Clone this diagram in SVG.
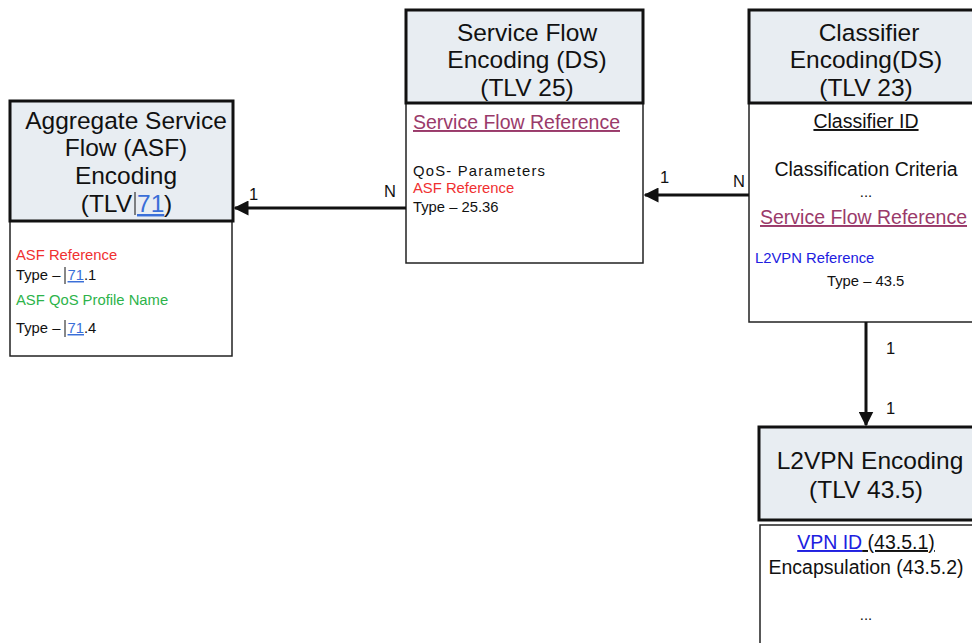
<svg xmlns="http://www.w3.org/2000/svg" width="972" height="643" viewBox="0 0 972 643">
<style>
text{font-family:"Liberation Sans",Arial,sans-serif;fill:#111}
.hdr{fill:#e8edf2;stroke:#111;stroke-width:3}
.body{fill:#fff;stroke:#222;stroke-width:1.5}
.h{font-size:24.5px;text-anchor:middle}
.s{font-size:14.8px}
.m{font-size:19.5px}
.red{fill:#f03030}
.grn{fill:#2db34a}
.blu{fill:#2020e0}
.lnk{fill:#3a6fd8}
.pur{fill:#9a3a6a}
.lbl{font-size:16.5px}
.conn{stroke:#111;stroke-width:3;fill:none}
.cur{stroke:#111;stroke-width:1}
</style>
<defs>
<marker id="ah" viewBox="0 0 10 10" refX="9" refY="5" markerWidth="5" markerHeight="5" orient="auto" markerUnits="strokeWidth">
<path d="M0,0 L10,5 L0,10 z" fill="#111"/>
</marker>
</defs>
<g id="asf">
<rect class="body" x="10" y="221" width="222" height="135"/>
<rect class="hdr" x="10" y="101" width="223" height="120"/>
<text class="h" x="126" y="129">Aggregate Service</text>
<text class="h" x="126" y="156">Flow (ASF)</text>
<text class="h" x="126" y="184">Encoding</text>
<text class="h" x="132" y="212" style="text-anchor:end">(TLV</text>
<line class="cur" x1="135" y1="192" x2="135" y2="215"/>
<text class="h lnk" x="137" y="212" style="text-anchor:start" text-decoration="underline">71</text>
<text class="h" x="164" y="212" style="text-anchor:start">)</text>
<text class="s red" x="16" y="260">ASF Reference</text>
<text class="s" x="16" y="280">Type – <tspan class="lnk" dx="3" text-decoration="underline">71</tspan>.1</text>
<text class="s grn" x="16" y="305">ASF QoS Profile Name</text>
<text class="s" x="16" y="333">Type – <tspan class="lnk" dx="3" text-decoration="underline">71</tspan>.4</text>
<line class="cur" x1="65" y1="267" x2="65" y2="284"/>
<line class="cur" x1="65" y1="320" x2="65" y2="337"/>
</g>
<g id="sf">
<rect class="body" x="406" y="103" width="237" height="160"/>
<rect class="hdr" x="406" y="10" width="237" height="93"/>
<text class="h" x="527" y="41">Service Flow</text>
<text class="h" x="527" y="68">Encoding (DS)</text>
<text class="h" x="527" y="96">(TLV 25)</text>
<text class="m pur" x="413" y="129" text-decoration="underline">Service Flow Reference</text>
<text class="s" x="413" y="176" letter-spacing="1.2">QoS- Parameters</text>
<text class="s red" x="413" y="193">ASF Reference</text>
<text class="s" x="413" y="212">Type – 25.36</text>
</g>
<g id="classifier">
<rect class="body" x="749" y="103" width="226" height="219"/>
<rect class="hdr" x="749" y="10" width="226" height="93"/>
<text class="h" x="869" y="41">Classifier</text>
<text class="h" x="866" y="68">Encoding(DS)</text>
<text class="h" x="866" y="96">(TLV 23)</text>
<text class="m" x="866" y="128" text-anchor="middle" text-decoration="underline">Classifier ID</text>
<text class="m" x="866" y="176" text-anchor="middle">Classification Criteria</text>
<text class="s" x="866" y="197" text-anchor="middle">...</text>
<text class="m pur" x="760" y="224" text-decoration="underline">Service Flow Reference</text>
<text class="s blu" x="755" y="263">L2VPN Reference</text>
<text class="s" x="827" y="286">Type – 43.5</text>
</g>
<g id="l2vpn">
<rect class="body" x="760" y="525" width="215" height="125"/>
<rect class="hdr" x="759" y="427" width="216" height="93"/>
<text class="h" x="870" y="469">L2VPN Encoding</text>
<text class="h" x="866" y="498">(TLV 43.5)</text>
<text class="m" x="866" y="549" text-anchor="middle"><tspan class="blu" text-decoration="underline">VPN ID</tspan><tspan text-decoration="underline"> (43.5.1)</tspan></text>
<text class="m" x="866" y="574" text-anchor="middle">Encapsulation (43.5.2)</text>
<text class="s" x="866" y="620" text-anchor="middle">...</text>
</g>
<g id="connectors">
<line class="conn" x1="406" y1="208" x2="235" y2="208" marker-end="url(#ah)"/>
<line class="conn" x1="749" y1="195" x2="645" y2="195" marker-end="url(#ah)"/>
<line class="conn" x1="866" y1="322" x2="866" y2="425" marker-end="url(#ah)"/>
<text class="lbl" x="249" y="200">1</text>
<text class="lbl" x="384" y="197">N</text>
<text class="lbl" x="660" y="183">1</text>
<text class="lbl" x="733" y="187">N</text>
<text class="lbl" x="886" y="354">1</text>
<text class="lbl" x="886" y="414">1</text>
</g>
</svg>
